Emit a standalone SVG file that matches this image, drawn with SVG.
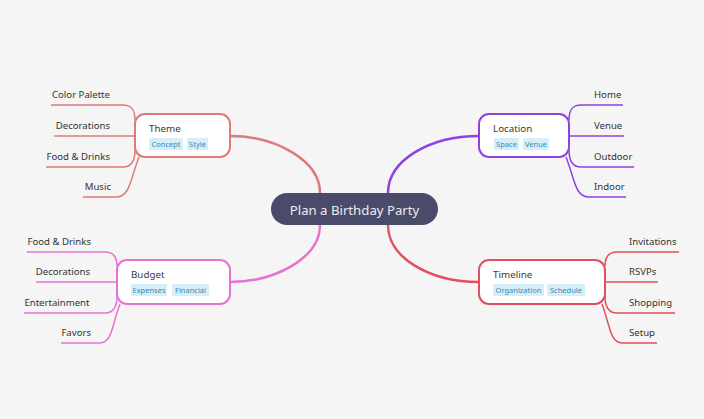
<svg xmlns="http://www.w3.org/2000/svg" width="704" height="419" viewBox="0 0 704 419">
<style>
text{font-family:"Noto Sans","Open Sans","Liberation Sans",sans-serif;fill:#333;}
.leaf{font-size:9.6px;}
.title{font-size:9.8px;fill:#3a3a3a;}
.tag{fill:#d5eef8;}
.tagt{font-size:7.5px;fill:#3f89b0;text-anchor:middle;}
.box{fill:#fff;stroke-width:2;}
.l{fill:none;stroke-width:1.5;}
.m{fill:none;stroke-width:2.5;}
.end{text-anchor:end;}
</style>
<rect x="0" y="0" width="704" height="419" fill="#f5f5f5"/>
<g id="connectors">
  <path class="m" stroke="#df7a7a" d="M320,193 C320,160 275,136 230,136"/>
  <path class="m" stroke="#8e42e0" d="M388,193 C388,160 430,136 479,136"/>
  <path class="m" stroke="#e672d2" d="M320,225 C320,258 275,282 230,282"/>
  <path class="m" stroke="#e0505e" d="M388,225 C388,258 430,282 479,282"/>
  <g stroke="#df7a7a">
    <path class="l" d="M135,120 C135,109 131,105 123,105 H51"/>
    <path class="l" d="M135,136 H54"/>
    <path class="l" d="M135,150 C135,162 131,167 123,167 H46"/>
    <path class="l" d="M139,157 C130,180 130,197 116,197 H83"/>
  </g>
  <g stroke="#8e42e0">
    <path class="l" d="M569,120 C569,109 573,105 581,105 H623"/>
    <path class="l" d="M569,136 H624"/>
    <path class="l" d="M569,150 C569,162 573,167 581,167 H634"/>
    <path class="l" d="M566,157 C575,180 575,197 589,197 H626"/>
  </g>
  <g stroke="#e672d2">
    <path class="l" d="M117,266 C117,256 113,252 105,252 H27"/>
    <path class="l" d="M117,282 H36"/>
    <path class="l" d="M117,296 C117,308 113,313 105,313 H24"/>
    <path class="l" d="M120,304 C112,325 112,343 100,343 H61"/>
  </g>
  <g stroke="#e0505e">
    <path class="l" d="M605,266 C605,256 609,252 617,252 H679"/>
    <path class="l" d="M605,282 H658"/>
    <path class="l" d="M605,296 C605,308 609,313 617,313 H675"/>
    <path class="l" d="M602,304 C610,325 610,343 622,343 H657"/>
  </g>
</g>
<g id="root">
  <rect x="271" y="193" width="167" height="32" rx="16" fill="#4a4b6a"/>
  <text x="354.5" y="214.5" font-size="13.2" text-anchor="middle" style="fill:#ebebf2">Plan a Birthday Party</text>
</g>
<g id="theme">
  <rect class="box" x="135" y="114" width="95" height="43" rx="10" stroke="#df7a7a"/>
  <text class="title" x="149" y="131.5">Theme</text>
  <rect class="tag" x="149" y="138" width="34" height="12" rx="1"/>
  <text class="tagt" x="166" y="147">Concept</text>
  <rect class="tag" x="187" y="138" width="21" height="12" rx="1"/>
  <text class="tagt" x="197.5" y="147">Style</text>
</g>
<g id="theme-leaves">
  <text class="leaf end" x="110" y="98">Color Palette</text>
  <text class="leaf end" x="110" y="129">Decorations</text>
  <text class="leaf end" x="110" y="160">Food &amp; Drinks</text>
  <text class="leaf end" x="111" y="190">Music</text>
</g>
<g id="location">
  <rect class="box" x="479" y="114" width="90" height="43" rx="10" stroke="#8e42e0"/>
  <text class="title" x="493" y="131.5">Location</text>
  <rect class="tag" x="494" y="138" width="25" height="12" rx="1"/>
  <text class="tagt" x="506.5" y="147">Space</text>
  <rect class="tag" x="523" y="138" width="26" height="12" rx="1"/>
  <text class="tagt" x="536" y="147">Venue</text>
</g>
<g id="location-leaves">
  <text class="leaf" x="594" y="98">Home</text>
  <text class="leaf" x="594" y="129">Venue</text>
  <text class="leaf" x="594" y="160">Outdoor</text>
  <text class="leaf" x="594" y="190">Indoor</text>
</g>
<g id="budget">
  <rect class="box" x="117" y="260" width="113" height="44" rx="10" stroke="#e672d2"/>
  <text class="title" x="131" y="277.5">Budget</text>
  <rect class="tag" x="131" y="284" width="36" height="12" rx="1"/>
  <text class="tagt" x="149" y="293">Expenses</text>
  <rect class="tag" x="172" y="284" width="37" height="12" rx="1"/>
  <text class="tagt" x="190.5" y="293">Financial</text>
</g>
<g id="budget-leaves">
  <text class="leaf end" x="91" y="245">Food &amp; Drinks</text>
  <text class="leaf end" x="90" y="275">Decorations</text>
  <text class="leaf end" x="89.5" y="306">Entertainment</text>
  <text class="leaf end" x="91" y="336">Favors</text>
</g>
<g id="timeline">
  <rect class="box" x="479" y="260" width="126" height="44" rx="10" stroke="#e0505e"/>
  <text class="title" x="493" y="277.5">Timeline</text>
  <rect class="tag" x="493" y="284" width="51" height="12" rx="1"/>
  <text class="tagt" x="518.5" y="293">Organization</text>
  <rect class="tag" x="547" y="284" width="38" height="12" rx="1"/>
  <text class="tagt" x="566" y="293">Schedule</text>
</g>
<g id="timeline-leaves">
  <text class="leaf" x="629" y="245">Invitations</text>
  <text class="leaf" x="629" y="275">RSVPs</text>
  <text class="leaf" x="629" y="306">Shopping</text>
  <text class="leaf" x="629" y="336">Setup</text>
</g>
</svg>
